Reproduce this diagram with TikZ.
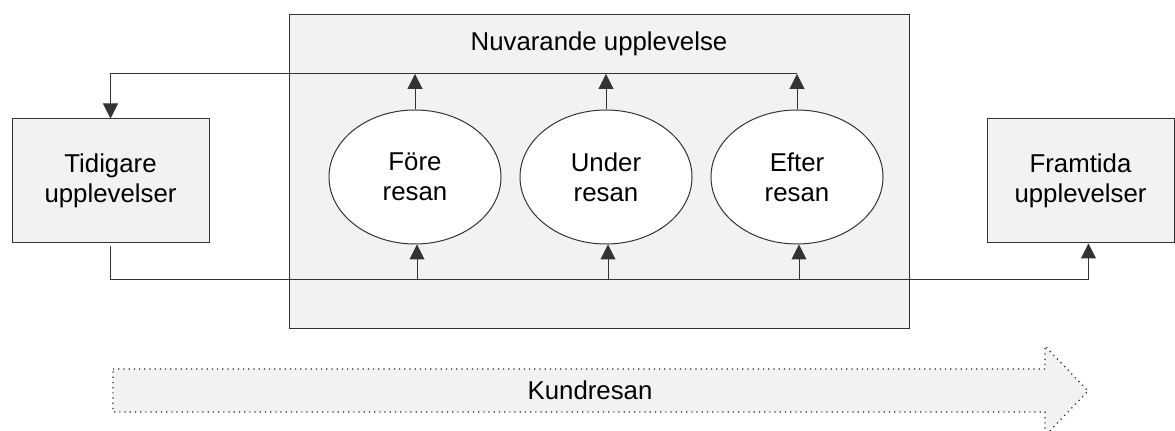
\documentclass[tikz,border=0pt]{standalone}
\usepackage{fontspec}
\setmainfont{Liberation Sans}
\usetikzlibrary{arrows.meta,calc,shapes.geometric}

\begin{document}
\begin{tikzpicture}[x=0.5pt,y=-0.5pt,
	every node/.style={font=\fontsize{12.9}{15}\selectfont,align=center},
	box/.style={draw=black!80,fill=black!5,line width=0.5pt,inner sep=0pt},
	fas/.style={draw=black!80,fill=white,ellipse,line width=0.5pt,minimum width=86pt,minimum height=67pt,inner sep=0pt},
	pil/.style={draw=black!80,line width=0.5pt,-{Triangle[length=7.5pt,width=7.5pt]}}]
	\useasboundingbox (0,0) rectangle (1175,431);
	\node[box,minimum width=310pt,minimum height=157pt] (nuv) at (599,172) {};
	\node (nuvtext) at (599,44) {Nuvarande upplevelse};
	\node[box,minimum width=98.5pt,minimum height=62pt] (tid) at (110.5,181) {Tidigare\\upplevelser};
	\node[box,minimum width=93.5pt,minimum height=62pt] (fram) at (1080.5,181) {Framtida\\upplevelser};
	\foreach \n/\x/\t in {fore/415/Före,under/606/Under,efter/797/Efter}
		\node[fas] (\n) at (\x,177) {\t\\resan};
	\path
	(tid.north |- 0,74) coordinate (topL)
	(tid.south |- 0,280) coordinate (botL)
	([xshift=4pt]fram.south |- 0,280) coordinate (botR);
	\foreach \n in {fore,under,efter} {
		\draw[pil] (\n.north) -- (\n.north |- topL);
		\draw[pil] ([xshift=1pt]\n.south |- botL) -- ([xshift=1pt]\n.south);
	}
	\draw[pil] (efter.north |- topL) -- (topL) -- (tid.north);
	\draw[pil] ([yshift=-1.5pt]tid.south) -- (botL) -- (botR) -- ([xshift=4pt]fram.south);
	\draw[draw=black!85,fill=black!5,dotted,line width=0.6pt]
	(113,369) -- (1045,369) -- (1045,346) -- (1088,391) -- (1045,436) -- (1045,412) -- (113,412) -- cycle;
	\node (kund) at (590,390) {Kundresan};
\end{tikzpicture}
\end{document}
